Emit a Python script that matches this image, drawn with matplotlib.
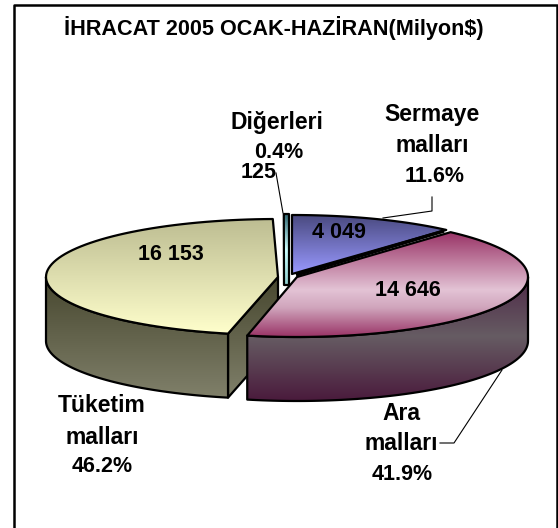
import numpy as np
import matplotlib
matplotlib.use("Agg")
import matplotlib.pyplot as plt
from matplotlib.colors import LinearSegmentedColormap
from matplotlib.patches import Polygon

plt.rcParams['font.family'] = ['Liberation Sans', 'DejaVu Sans']

categories = ["Sermaye\nmalları", "Ara\nmalları", "Tüketim\nmalları", "Diğerleri"]
values = [4049, 14646, 16153, 125]
value_labels = ["4 049", "14 646", "16 153", "125"]
percent_labels = ["11.6%", "41.9%", "46.2%", "0.4%"]
title = "İHRACAT 2005 OCAK-HAZİRAN(Milyon$)"

# slice angles, clockwise from 12 o'clock
total = sum(values)
edges = np.cumsum([0] + values) / total * 360

fig = plt.figure(figsize=(5.58, 5.28), dpi=100)
ax = fig.add_axes([0, 0, 1, 1])
ax.set_xlim(0, 558)
ax.set_ylim(528, 0)
ax.axis('off')

A = 231
B = 60
H = 64


def arc(c, t0, t1, a=A, b=B, dy=0):
    t = np.radians(np.linspace(t0, t1, 80))
    return np.column_stack([c[0] + a * np.sin(t), c[1] - b * np.cos(t) + dy])


def fill(pts, stops, z):
    # vertical gradient clipped to the polygon, outline on top
    pts = np.asarray(pts)
    y0, y1 = pts[:, 1].min(), pts[:, 1].max()
    cmap = LinearSegmentedColormap.from_list("g", stops)
    grad = np.linspace(0, 1, 256).reshape(-1, 1)
    im = ax.imshow(grad, cmap=cmap, extent=(pts[:, 0].min(), pts[:, 0].max(), y1, y0),
                   aspect='auto', zorder=z, interpolation='bilinear')
    poly = Polygon(pts, closed=True, fc='none', ec='black', lw=1.6, zorder=z + 0.1, joinstyle='round')
    ax.add_patch(poly)
    im.set_clip_path(poly)


blue = ["#4a4a80", "#9999ff"]
pink = [(0, "#993366"), (0.55, "#e3c3d5"), (0.72, "#d0a5bc"), (1, "#993366")]
cream = ["#bdbd92", "#ffffcc"]
cyan = ["#2f6670", "#ccffff", "#8fd0d0"]
olive = ["#47472f", "#80806a"]
plum = [(0, "#4f2a48"), (0.48, "#665c63"), (1, "#4a1a3c")]

# Sermaye
c = (292, 274)
s_top = np.vstack([[c], arc(c, edges[0], edges[1], a=232, b=59)])
fill(s_top, blue, 2)

# Diğerleri, a thin strip: the top wedge plus its inner face
c = (289, 274)
d_top = np.vstack([arc(c, edges[3], edges[4], a=232, b=60), [(289, 285), (284, 285)]])
fill(d_top, cyan, 2)

# Tüketim
c = (278, 277)
t_top = np.vstack([[c], arc(c, edges[2], edges[3], a=232, b=58)])
corner = arc(c, edges[2], edges[2], a=232, b=58)[0]
t_inner = [c, corner, corner + [0, H], (c[0], c[1] + H)]
t_outer = np.vstack([arc(c, edges[2], 270, a=232, b=58),
                     arc(c, 270, edges[2], a=232, b=58, dy=H)])
fill(t_inner, olive, 3)
fill(t_outer, olive, 3.2)
fill(t_top, cream, 3.4)

# Ara
c = (297, 277)
a_top = np.vstack([[c], arc(c, edges[1], edges[2])])
a_outer = np.vstack([arc(c, 90, edges[2]), arc(c, edges[2], 90, dy=H)])
fill(a_outer, plum, 4)
fill(a_top, pink, 4.4)

# dark thickness between Sermaye and Ara
ax.plot([296, 444], [275, 231], color='black', lw=2.5, zorder=4.3, solid_capstyle='butt')

# leader lines
ax.plot([276, 283], [173, 213], color='black', lw=0.8, zorder=5)
ax.plot([432, 432, 383], [197, 211, 218], color='black', lw=0.8, zorder=5)
ax.plot([440, 454, 502], [443, 443, 370], color='black', lw=0.8, zorder=5)

# frame, no bottom side in the crop
ax.plot([14, 14, 557, 557], [528, 5, 5, 528], color='black', lw=1.8, zorder=6, clip_on=False)

txt = dict(fontweight='bold', ha='center', va='center', color='black', zorder=7)
ax.text(274, 28, title, fontsize=15.6, **txt)

name_pos = [(432, 115, 146), (401, 413, 444), (102, 405, 437)]
pct_pos = [(435, 176), (402, 474), (102, 467), (279, 152)]
val_pos = [(339, 232), (408, 290), (171, 254), (259, 172)]
for i in range(3):
    first, second = categories[i].split("\n")
    ax.text(name_pos[i][0], name_pos[i][1], first, fontsize=16.5, **txt)
    ax.text(name_pos[i][0], name_pos[i][2], second, fontsize=16.5, **txt)
ax.text(277, 122, categories[3], fontsize=16.5, **txt)
for i in range(4):
    ax.text(pct_pos[i][0], pct_pos[i][1], percent_labels[i], fontsize=15.5, **txt)
    ax.text(val_pos[i][0], val_pos[i][1], value_labels[i], fontsize=15.5, **txt)

ax.set_xlim(0, 558)
ax.set_ylim(528, 0)
fig.savefig('out.png', dpi=100)
plt.close()
